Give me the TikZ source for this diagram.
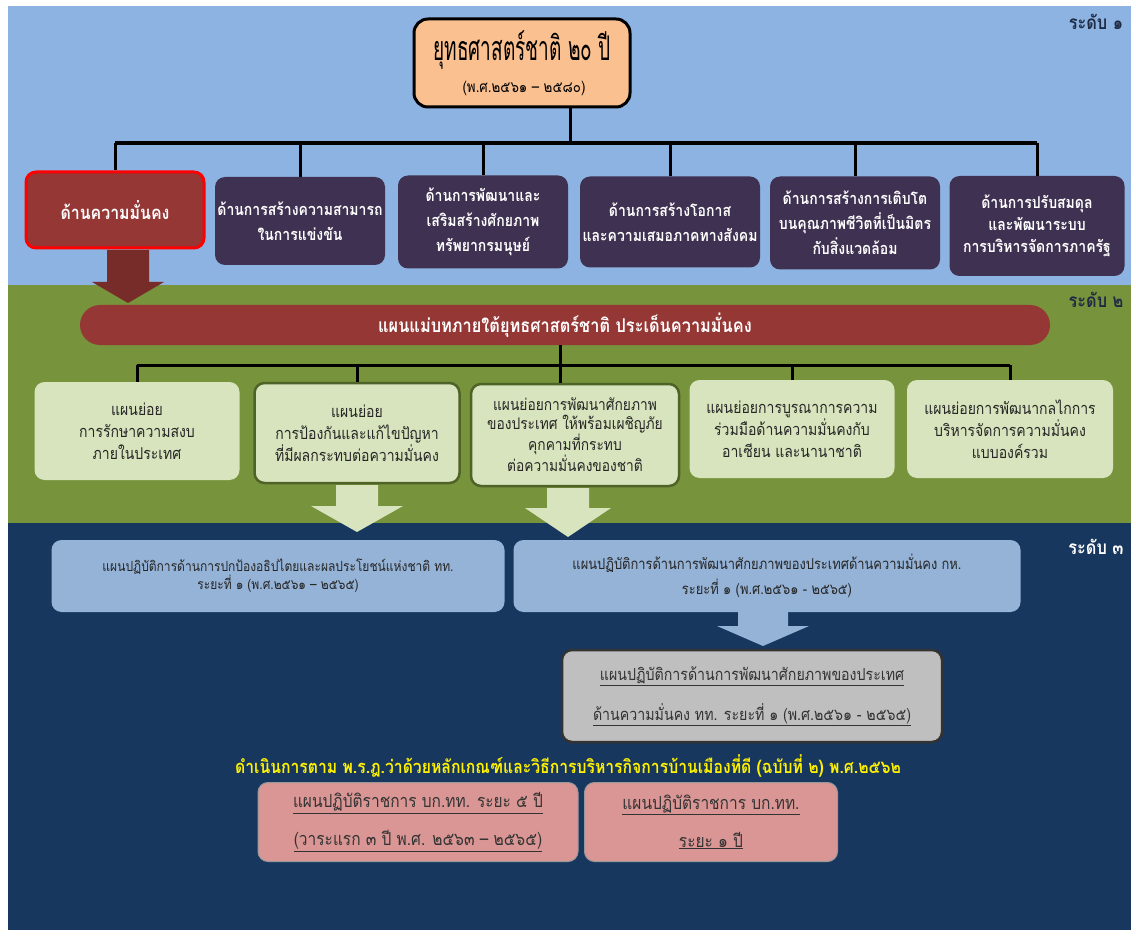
\documentclass[tikz,border=0pt]{standalone}
\usepackage{fontspec}
\setmainfont{Loma}[Script=Thai,FakeStretch=0.86]
\newfontfamily\titlefont{Loma}[Script=Thai,FakeStretch=0.56]
\usetikzlibrary{calc}
\definecolor{bandblue}{HTML}{8DB3E2}
\definecolor{bandgreen}{HTML}{77933C}
\definecolor{bandnavy}{HTML}{17375E}
\definecolor{orangebox}{HTML}{FAC090}
\definecolor{redfill}{HTML}{953735}
\definecolor{purplefill}{HTML}{3F3151}
\definecolor{lightgreen}{HTML}{D7E4BD}
\definecolor{darkgreen}{HTML}{4F6228}
\definecolor{lightblue}{HTML}{95B3D7}
\definecolor{grayfill}{HTML}{BFBFBF}
\definecolor{pinkfill}{HTML}{DA9694}
\definecolor{arrowred}{HTML}{772C2A}
\definecolor{labeldark}{HTML}{1F2A44}
\newcommand\blockarr[7]{\fill[#7] (#1-#5,#2) -- (#1+#5,#2) -- (#1+#5,#3) -- (#1+#6,#3) -- (#1,#4) -- (#1-#6,#3) -- (#1-#5,#3) -- cycle;}
\tikzset{
  box/.style={rounded corners=10pt, align=center, inner sep=2pt},
  topbox/.style={box, fill=orangebox, draw=black, line width=3pt, rounded corners=14pt},
  redbox/.style={box, fill=redfill, draw=red, line width=3pt, text=white, font=\bfseries\fontsize{18.5}{24}\selectfont},
  purplebox/.style={box, fill=purplefill, text=white, font=\bfseries\fontsize{16.3}{25}\selectfont},
  banner/.style={box, fill=redfill, rounded corners=20pt, text=white, font=\bfseries\fontsize{19}{22}\selectfont},
  subbox/.style={box, fill=lightgreen, text=black!85, font=\fontsize{16.3}{22}\selectfont},
  subboxdark/.style={subbox, draw=darkgreen, line width=2.5pt},
  opbox/.style={box, fill=lightblue, text=black!85},
  graybox/.style={box, fill=grayfill, draw=black!80, line width=2.5pt, text=black!80, font=\fontsize{16.5}{40}\selectfont},
  pinkbox/.style={box, fill=pinkfill, draw=black!40, line width=1pt, text=black!80, font=\fontsize{18}{38}\selectfont},
  tree/.style={draw=black, line width=3pt},
  treebar/.style={draw=black, line width=4.5pt},
  levellabel/.style={font=\bfseries\fontsize{19}{22}\selectfont, text=labeldark},
}
\begin{document}
\begin{tikzpicture}[x=1pt,y=-1pt]
\useasboundingbox[fill=white] (0,0) rectangle (1136,936);
% bands
\fill[bandblue] (8,6) rectangle (1131,285);
\fill[bandgreen] (8,285) rectangle (1131,523);
\fill[bandnavy] (8,523) rectangle (1131,930);
% level labels
\node[levellabel] (lv1) at (1096,22) {ระดับ ๑};
\node[levellabel] (lv2) at (1096,300) {ระดับ ๒};
\node[levellabel, text=white] (lv3) at (1096,547) {ระดับ ๓};
% top box
\node[topbox, minimum width=216pt, minimum height=88pt] (top) at (522,63) {};
\node[font=\titlefont\fontsize{34}{36}\selectfont, inner sep=0pt] (ttl) at (522,50) {ยุทธศาสตร์ชาติ ๒๐ ปี};
\node[font=\fontsize{15.5}{18}\selectfont, inner sep=0pt] (sub) at (524,88) {(พ.ศ.๒๕๖๑ – ๒๕๘๐)};
% row 1
\node[redbox, minimum width=178pt, minimum height=76pt] (s1) at (115,210) {ด้านความมั่นคง};
\node[purplebox, minimum width=170pt, minimum height=88pt] (s2) at (300,221) {ด้านการสร้างความสามารถ\\ในการแข่งขัน};
\node[purplebox, minimum width=170pt, minimum height=93pt] (s3) at (483,222) {ด้านการพัฒนาและ\\เสริมสร้างศักยภาพ\\ทรัพยากรมนุษย์};
\node[purplebox, minimum width=180pt, minimum height=91pt] (s4) at (670,222) {ด้านการสร้างโอกาส\\และความเสมอภาคทางสังคม};
\node[purplebox, minimum width=170pt, minimum height=93pt] (s5) at (855,223) {ด้านการสร้างการเติบโต\\บนคุณภาพชีวิตที่เป็นมิตร\\กับสิ่งแวดล้อม};
\node[purplebox, minimum width=175pt, minimum height=100pt, font=\bfseries\fontsize{16.3}{22}\selectfont] (s6) at (1037,226) {ด้านการปรับสมดุล\\และพัฒนาระบบ\\การบริหารจัดการภาครัฐ};
% tree 1
\coordinate (j1) at (570,143);
\draw[tree] (top.south -| j1) -- (j1);
\draw[treebar] (s1.north |- j1) -- (s6.north |- j1);
\foreach \n in {s1,s2,s3,s4,s5,s6} \draw[tree] (\n.north |- j1) -- (\n.north);
% red arrow
\blockarr{128}{250}{282}{303}{21}{36}{arrowred}
% banner
\node[banner, minimum width=970pt, minimum height=40pt] (plan) at (565,325) {แผนแม่บทภายใต้ยุทธศาสตร์ชาติ ประเด็นความมั่นคง};
% row 2
\node[subbox, minimum width=205pt, minimum height=98pt] (c1) at (137,431) {แผนย่อย\\การรักษาความสงบ\\ภายในประเทศ};
\node[subboxdark, minimum width=205pt, minimum height=100pt] (c2) at (357,433) {แผนย่อย\\การป้องกันและแก้ไขปัญหา\\ที่มีผลกระทบต่อความมั่นคง};
\node[subboxdark, minimum width=208pt, minimum height=102pt, font=\fontsize{16}{18.5}\selectfont] (c3) at (575,435) {แผนย่อยการพัฒนาศักยภาพ\\ของประเทศ ให้พร้อมเผชิญภัย\\คุกคามที่กระทบ\\ต่อความมั่นคงของชาติ};
\node[subbox, minimum width=205pt, minimum height=98pt] (c4) at (792,429) {แผนย่อยการบูรณาการความ\\ร่วมมือด้านความมั่นคงกับ\\อาเซียน และนานาชาติ};
\node[subbox, minimum width=206pt, minimum height=98pt] (c5) at (1010,429) {แผนย่อยการพัฒนากลไกการ\\บริหารจัดการความมั่นคง\\แบบองค์รวม};
% tree 2
\coordinate (j2) at (560,365);
\draw[tree] (plan.south -| j2) -- (j2);
\draw[tree] (c1.north |- j2) -- (c5.north |- j2);
\foreach \n in {c1,c2,c4,c5} \draw[tree] (\n.north |- j2) -- (\n.north);
\draw[tree] (j2) -- (j2 |- c3.north);
% green arrows
\blockarr{357}{485}{506}{532}{21}{46}{lightgreen}
\blockarr{568}{488}{508}{537}{21}{43}{lightgreen}
% level 3
\node[opbox, minimum width=453pt, minimum height=72pt, font=\fontsize{14}{18}\selectfont] (l1) at (278,576) {แผนปฏิบัติการด้านการปกป้องอธิปไตยและผลประโยชน์แห่งชาติ ทท.\\ระยะที่ ๑ (พ.ศ.๒๕๖๑ – ๒๕๖๕)};
\node[opbox, minimum width=507pt, minimum height=72pt, font=\fontsize{15}{25}\selectfont] (l2) at (767,576) {แผนปฏิบัติการด้านการพัฒนาศักยภาพของประเทศด้านความมั่นคง กห.\\ระยะที่ ๑ (พ.ศ.๒๕๖๑ - ๒๕๖๕)};
\blockarr{763}{612}{626}{646}{25}{46}{lightblue}
\node[graybox, minimum width=380pt, minimum height=92pt] (g) at (752,696) {\underline{แผนปฏิบัติการด้านการพัฒนาศักยภาพของประเทศ}\\\underline{ด้านความมั่นคง ทท. ระยะที่ ๑ (พ.ศ.๒๕๖๑ - ๒๕๖๕)}};
\node[font=\bfseries\fontsize{18.3}{20}\selectfont, text=yellow] (law) at (568,766) {ดำเนินการตาม พ.ร.ฎ.ว่าด้วยหลักเกณฑ์และวิธีการบริหารกิจการบ้านเมืองที่ดี (ฉบับที่ ๒) พ.ศ.๒๕๖๒};
\node[pinkbox, minimum width=320pt, minimum height=79pt] (p1) at (418,822) {\underline{แผนปฏิบัติราชการ บก.ทท. ระยะ ๕ ปี}\\\underline{(วาระแรก ๓ ปี พ.ศ. ๒๕๖๓ – ๒๕๖๕)}};
\node[pinkbox, minimum width=253pt, minimum height=79pt] (p2) at (711,822) {\underline{แผนปฏิบัติราชการ บก.ทท.}\\\underline{ระยะ ๑ ปี}};
\end{tikzpicture}
\end{document}
